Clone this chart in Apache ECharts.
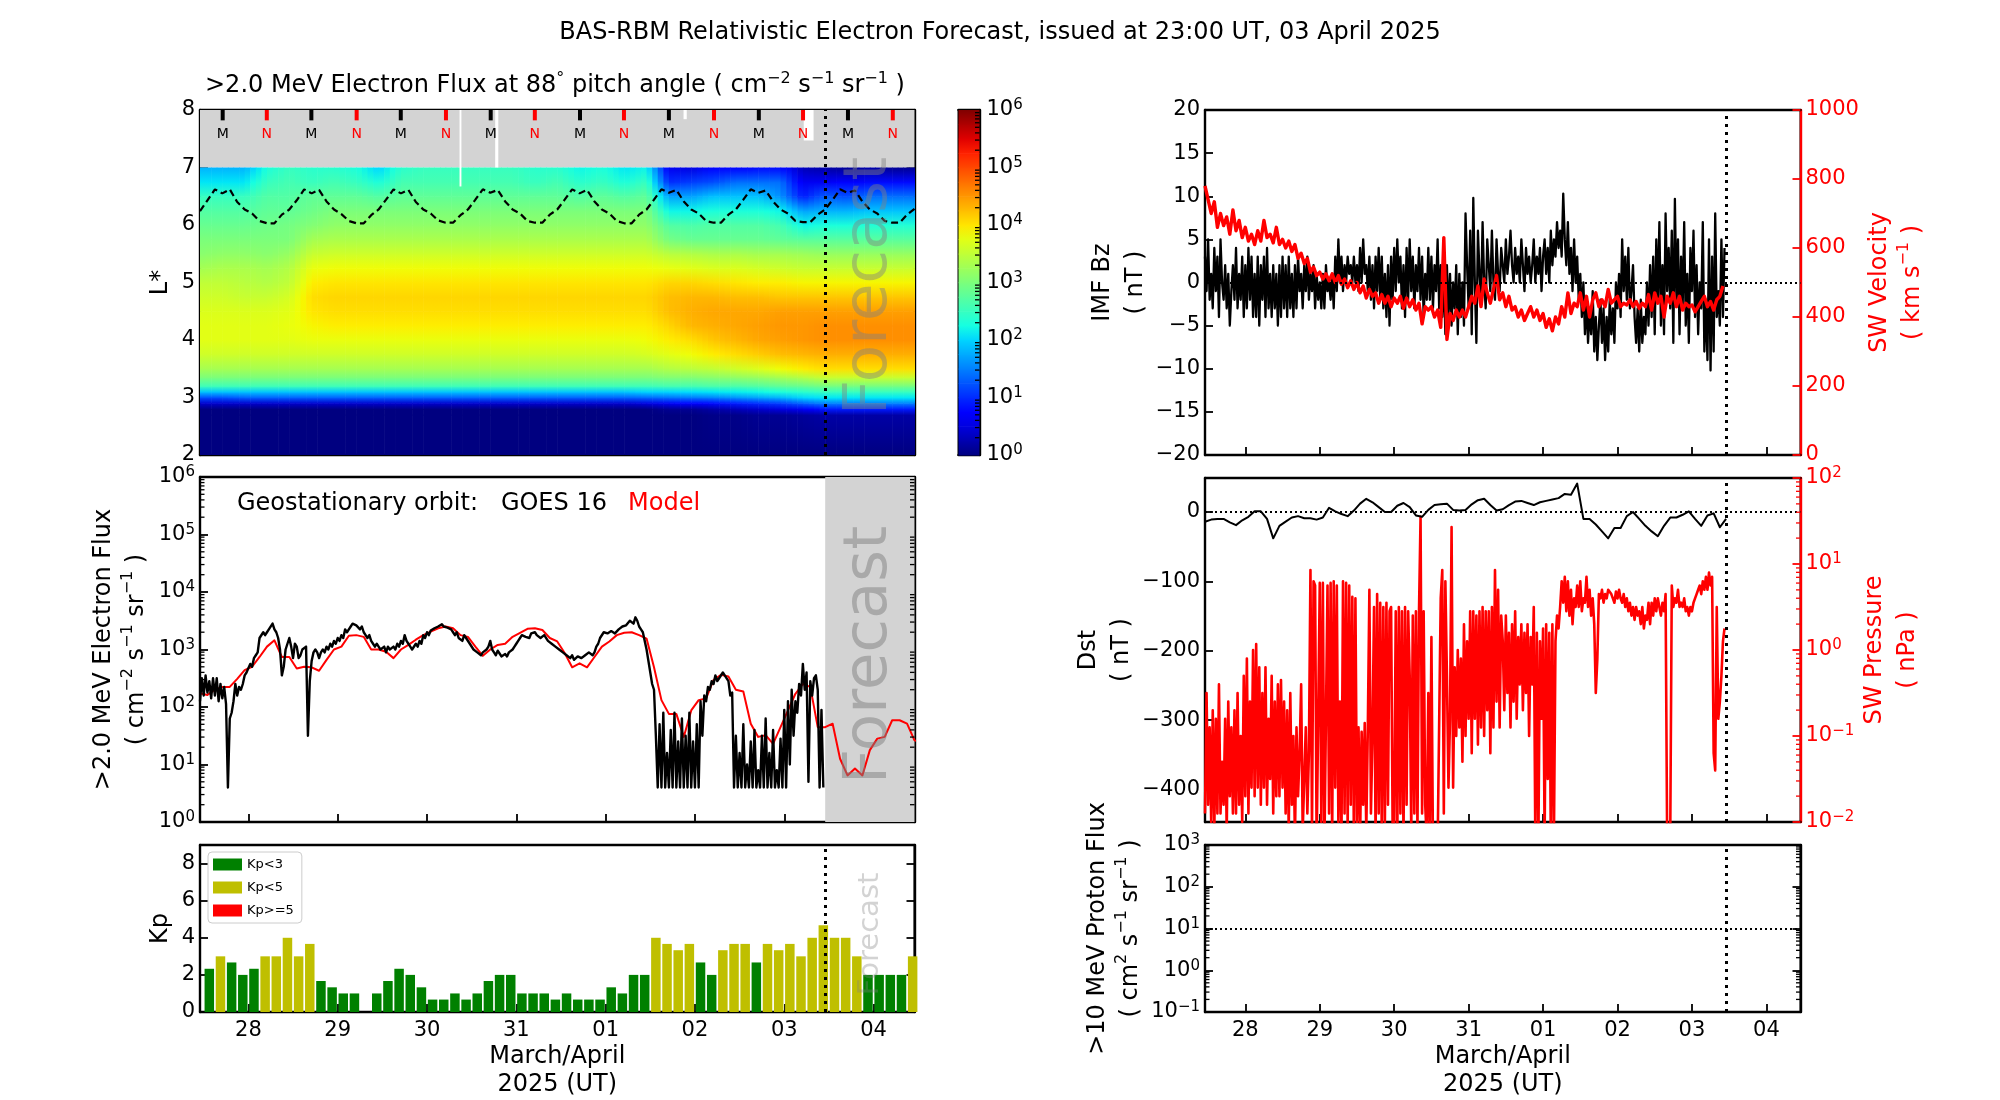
<!DOCTYPE html>
<html><head><meta charset="utf-8"><style>html,body{margin:0;background:#fff}#c{width:2000px;height:1100px}</style>
<script src="https://cdn.jsdelivr.net/npm/echarts@6/dist/echarts.min.js"></script></head><body><div id="c"></div>
<script>
// x values are days since 27 March 23:00 UT. Tick labels sit at noon of each day.
const dayTicks=[0.5417,1.5417,2.5417,3.5417,4.5417,5.5417,6.5417,7.5417];
const dayLabels=['28','29','30','31','01','02','03','04'];
const nowDay=7;
const kp=[2.33,3,2.67,2,2.33,3,3,4, 3,3.67,1.67,1.33,1,1,0,1, 1.67,2.33,2,1.33,.67,.67,1,.67, 1,1.67,2,2,1,1,1,.67, 1,.67,.67,.67,1.33,1,2,2, 4,3.67,3.33,3.67,2.67,2,3.33,3.67, 3.67,2.67,3.67,3.33,3.67,3,4,4.67, 4,4,3,2,2,2,2,3];
const kpFirstDay=0.1042, kpStepDays=0.125;
const mnDays=[.254,.748,1.247,1.754,2.248,2.754,3.255,3.749,4.255,4.747,5.25,5.755,6.257,6.752,7.255,7.757];
const mnLabels=['M','N','M','N','M','N','M','N','M','N','M','N','M','N','M','N'];
const dataGaps=[[2.906,2.927,6.67,8],[3.305,3.34,7,8],[5.414,5.45,7.84,8],[6.76,6.87,7.47,8]];
// L* of geostationary orbit, every 2 hours
const geoL=[6.24,6.43,6.62,6.55,6.62,6.4,6.27,6.2,6.07,6.03,6.03,6.18,
6.27,6.43,6.62,6.55,6.61,6.41,6.27,6.19,6.07,6.03,6.03,6.17,
6.27,6.44,6.62,6.55,6.61,6.4,6.27,6.2,6.08,6.04,6.04,6.17,
6.27,6.44,6.62,6.56,6.61,6.41,6.27,6.2,6.07,6.04,6.04,6.18,
6.27,6.44,6.62,6.55,6.61,6.41,6.27,6.2,6.07,6.03,6.03,6.18,
6.27,6.44,6.62,6.56,6.61,6.41,6.27,6.2,6.07,6.04,6.04,6.18,
6.27,6.44,6.62,6.56,6.6,6.41,6.27,6.2,6.07,6.05,6.05,6.18,
6.27,6.44,6.62,6.56,6.6,6.41,6.27,6.2,6.07,6.04,6.04,6.18,6.28];
// log10 flux: rows go with heatL, columns go with heatDays
const heatDays=[0,.25,.5,.75,1,1.25,1.5,1.75,2,2.25,2.5,2.75,3,3.25,3.5,3.75,4,4.25,4.5,4.75,5,5.25,5.5,5.75,6,6.25,6.5,6.75,7,7.25,7.5,7.75,8];
const heatL=[2,2.7,2.8,2.9,3,3.1,3.2,3.35,3.5,3.75,4,4.25,4.5,4.75,5,5.25,5.5,5.75,6,6.25,6.5,6.75,7];
const heatRows=[
[0,0,0,0,0,0,0,0,0,0,0,0,0,0,0,0,0,0,0,0,0,0,0,0,0,0,0,0,0,0,0,0,0],
[0,0,0,0,0,0,0,0,0,0,0,0,0,0,0,0,0,0,0,0,0,0,0,.05,.05,.1,.1,.15,.2,.2,.2,.2,.2],
[0,0,0,0,0,0,0,0,0,0,0,0,0,0,0,0,0,0,0,0,0,.1,.1,.2,.3,.4,.5,.6,.9,.9,.9,.9,.9],
[.4,.4,.4,.4,.4,.4,.4,.4,.4,.4,.4,.4,.4,.4,.4,.4,.4,.4,.4,.4,.5,.6,.7,.8,.9,1,1.1,1.3,1.5,1.5,1.5,1.5,1.5],
[1.2,1.2,1.3,1.3,1.3,1.3,1.3,1.3,1.3,1.3,1.3,1.3,1.3,1.3,1.3,1.3,1.3,1.3,1.3,1.3,1.35,1.4,1.45,1.5,1.6,1.7,1.8,2,2.1,2.1,2.1,2.1,2.1],
[1.9,1.9,1.9,1.9,1.9,1.9,1.9,1.9,1.9,1.9,1.9,1.9,1.9,1.9,1.9,1.9,1.9,1.9,1.9,1.9,2,2,2.05,2.1,2.15,2.2,2.3,2.4,2.5,2.5,2.5,2.5,2.5],
[2.55,2.55,2.55,2.55,2.55,2.55,2.55,2.55,2.55,2.55,2.55,2.55,2.55,2.55,2.55,2.55,2.55,2.55,2.55,2.55,2.55,2.6,2.6,2.65,2.65,2.7,2.8,2.85,2.95,2.95,2.95,2.95,2.95],
[3,3,3,3,3,3,3,3,3,3,3,3,3,3,3,3,3,3,3,3,3,3.05,3.05,3.1,3.15,3.2,3.3,3.4,3.55,3.55,3.55,3.55,3.55],
[3.3,3.3,3.3,3.3,3.3,3.3,3.3,3.3,3.3,3.3,3.3,3.3,3.3,3.3,3.3,3.3,3.3,3.3,3.3,3.3,3.3,3.4,3.45,3.5,3.6,3.7,3.85,3.95,4.05,4.05,4.05,4.05,4.05],
[3.6,3.6,3.6,3.6,3.6,3.6,3.6,3.6,3.6,3.6,3.6,3.6,3.6,3.6,3.6,3.6,3.6,3.6,3.6,3.6,3.65,3.75,3.85,3.95,4.05,4.15,4.25,4.3,4.35,4.35,4.35,4.35,4.35],
[3.75,3.75,3.75,3.75,3.75,3.8,3.8,3.8,3.8,3.8,3.8,3.8,3.8,3.8,3.8,3.8,3.8,3.8,3.8,3.8,3.85,3.95,4.05,4.2,4.3,4.4,4.45,4.5,4.55,4.55,4.55,4.55,4.55],
[3.75,3.75,3.75,3.75,3.8,3.9,3.95,3.95,3.95,3.95,3.95,3.95,3.95,3.95,3.95,3.95,3.95,3.95,3.95,3.95,3.95,4.1,4.3,4.35,4.4,4.45,4.5,4.5,4.55,4.55,4.55,4.55,4.55],
[3.7,3.7,3.7,3.7,3.75,4,4.05,4.05,4.05,4.05,4.05,4.05,4.05,4.05,4.05,4.05,4.05,4.05,4.05,4.05,4.05,4.25,4.35,4.4,4.4,4.4,4.45,4.45,4.45,4.45,4.45,4.45,4.45],
[3.6,3.6,3.55,3.55,3.65,4.05,4.1,4.1,4.1,4.1,4.1,4.1,4.1,4.1,4.1,4.1,4.1,4.1,4.1,4.1,4.1,4.25,4.3,4.3,4.25,4.25,4.2,4.2,4.2,4.2,4.2,4.2,4.2],
[3.5,3.5,3.45,3.4,3.5,3.95,4,4,4,4,4,4,4,4,4,4,4,4,4,4,4,4.1,4.1,4.05,4,3.95,3.95,3.9,3.9,3.9,3.9,3.9,3.9],
[3.3,3.35,3.35,3.3,3.4,3.8,3.85,3.85,3.85,3.85,3.85,3.85,3.85,3.85,3.85,3.85,3.85,3.85,3.85,3.85,3.85,3.8,3.75,3.7,3.7,3.65,3.6,3.55,3.55,3.55,3.55,3.55,3.55],
[3.1,3.15,3.15,3.1,3.2,3.55,3.6,3.6,3.6,3.6,3.6,3.6,3.6,3.6,3.6,3.6,3.6,3.6,3.6,3.6,3.6,3.45,3.4,3.35,3.35,3.3,3.3,3.25,3.2,3.2,3.2,3.2,3.2],
[3,3,3,3,3,3.3,3.35,3.35,3.35,3.35,3.35,3.35,3.35,3.35,3.35,3.35,3.35,3.35,3.35,3.35,3.35,2.95,2.85,2.85,2.85,2.85,2.8,2.75,2.75,2.75,2.75,2.75,2.75],
[2.85,2.85,2.85,2.9,2.95,3.05,3.15,3.15,3.15,3.15,3.15,3.15,3.15,3.15,3.15,3.15,3.15,3.15,3.15,3.15,3.15,2.7,2.65,2.7,2.7,2.7,2.6,2.2,2.3,2.3,2.35,2.35,2.35],
[2.7,2.7,2.7,2.8,2.8,2.9,3,3,3,3,3,3,3,3,3,3,3,3,3,3,3,2.2,2.2,2.3,2.3,2.3,2.2,1.7,1.8,1.8,1.9,1.9,1.9],
[2.5,2.5,2.5,2.7,2.7,2.8,2.8,2.8,2.7,2.8,2.8,2.8,2.8,2.8,2.8,2.8,2.8,2.7,2.8,2.7,2.8,1.7,1.7,1.9,1.9,1.9,1.6,.9,1.3,1.2,1.4,1.4,1.4],
[2.1,2.1,2.1,2.5,2.6,2.5,2.6,2.5,2.3,2.6,2.6,2.6,2.6,2.6,2.6,2.5,2.6,2.4,2.5,2.3,2.5,1,1.1,1.2,1.4,1.4,1.4,.6,.6,.7,.8,.8,.8],
[1.8,1.8,1.8,2.3,2.5,2.4,2.4,2.3,2,2.4,2.5,2.5,2.5,2.5,2.5,2.4,2.4,2.2,2.3,2.1,2.2,.6,.5,.7,.7,.8,.8,.3,.2,.1,.2,.1,.1]];
const colorbarEdges=[0,.25,.5,.75,1,1.25,1.5,1.75,2,2.25,2.5,2.75,3,3.25,3.5,3.75,4,4.25,4.5,4.75,5,5.25,5.5,5.75,6];
// log10 >2 MeV flux at geostationary orbit: GOES every 30 minutes, model every 2 hours
const goesLog=[2.1,2.5,2.2,2.55,2.25,2.45,2.15,2.5,2.2,2.5,2.1,2.4,2.15,2.35,2.05,.6,1.8,1.9,2.1,2.4,2.2,2.35,2.3,2.4,2.55,2.6,2.6,2.75,2.7,2.85,2.9,2.95,3.2,3.2,3.3,3.25,3.3,3.35,3.35,3.45,3.35,3.3,3.2,3,2.55,2.7,3,3.1,
3.2,3.05,2.85,3.1,3.05,2.85,2.9,3,3,3.05,1.5,2.45,2.8,2.95,3,2.95,2.85,2.95,3,2.95,3.05,3,3.1,3.05,3.15,3.1,3.2,3.15,3.25,3.2,3.35,3.3,3.35,3.4,3.45,3.47,3.42,3.45,3.35,3.4,3.3,3.25,3.2,3.25,3.15,3.1,3.05,3.1,
3.05,3,3,3.05,2.95,3.05,3,2.98,3.05,3,3.1,3.05,3.15,3.1,3.25,3.15,3.1,3.05,3,3.02,3.1,3.05,3.15,3.1,3.25,3.2,3.3,3.25,3.33,3.3,3.37,3.35,3.4,3.37,3.44,3.4,3.42,3.38,3.38,3.35,3.3,3.25,3.3,3.2,3.22,3.15,3.25,3.2,
3.18,3.1,3.1,3,3,2.95,2.93,2.9,2.95,2.98,3,3.05,3.15,3,2.95,2.9,2.98,2.93,2.88,2.85,2.92,2.88,2.95,2.92,3,3.05,3.1,3.15,3.2,3.25,3.28,3.22,3.25,3.2,3.28,3.25,3.3,3.25,3.28,3.2,3.2,3.25,3.25,3.15,3.15,3.1,3.12,3.05,
3.05,3,3,2.95,2.95,2.9,2.9,2.85,2.9,2.82,2.85,2.88,2.9,2.85,2.85,2.9,2.9,2.95,2.95,2.9,2.95,3.05,3.1,3.2,3.2,3.3,3.3,3.28,3.3,3.32,3.32,3.28,3.3,3.35,3.35,3.4,3.4,3.42,3.45,3.5,3.5,3.45,3.56,3.5,3.4,3.35,3.3,3.15,
3,2.8,2.6,2.4,2.3,1.5,.6,1.7,.6,1.9,.6,1.2,.6,1.6,.6,1.9,.6,1.4,.6,1.8,.6,1.5,.6,1.9,.6,1.4,.6,1.7,.6,2.1,1.5,2.2,2.1,2.35,2.3,2.45,2.4,2.55,2.45,2.5,2.5,2.6,2.55,2.55,2.45,2.2,2.25,.6,
1.5,.6,1.2,.6,1.7,.6,1,.6,1.4,.6,1.6,.6,.9,.6,1.5,.6,1.8,.6,1.2,.6,1.6,.6,.9,.6,1.45,.6,1.95,.6,2.1,1,2.3,1.5,2.1,1.9,2.4,2.2,2.75,2.3,2.6,.7,2.45,2.2,2.5,2.55,2.3,.6,1.95,.6];
const modelLog=[2.24,2.21,2.3,2.35,2.35,2.49,2.64,2.7,2.87,3.05,3.16,2.87,2.87,2.67,2.7,2.69,2.63,2.82,3,3.05,3.24,3.25,3.22,3,
3,2.96,2.85,3,3.08,3.17,3.25,3.31,3.37,3.4,3.37,3.25,3.22,3.05,2.89,3,3.08,3.1,3.22,3.29,3.36,3.37,3.34,3.2,3.14,2.94,2.69,2.76,2.69,2.87,3.05,3.14,3.25,3.29,3.3,3.25,3.19,2.69,2.12,1.88,1.88,1.48,1.94,2.12,2.15,2.47,2.56,2.53,2.3,2.27,1.71,1.48,1.51,1.36,1.65,1.94,2.23,2.4,2.35,1.65,1.65,1.71,1.1,.81,.93,.81,1.25,1.45,1.48,1.77,1.77,1.71,1.42,1.39];
// IMF Bz, nT, every 30 minutes
const bz=[3,-1,5,-2,1,-3,4,-1,3,-4,5,0,-2,2,-3,1,-5,-1,2,-2,4,-3,1,-2,3,-4,2,-3,4,-2,3,-4,1,-4,3,-5,2,-2,3,-4,4,-3,1,-4,2,-3,1,-5,
2,-4,3,-3,2,-4,3,-3,1,-4,2,-3,3,-1,1,-3,2,-1,3,-2,1,-1,2,-3,1,-2,0,-3,1,-3,2,-1,0,-2,1,-3,3,-1,5,0,3,-1,2,0,3,1,2,0,
3,0,2,-1,4,0,5,1,2,-1,3,-2,2,-3,3,-1,4,-2,3,-3,1,-4,2,-5,3,-2,4,-1,5,0,3,-3,2,-4,4,-2,5,-1,3,-3,2,-1,4,-2,3,-4,1,-2,
4,-2,3,-3,2,-1,5,-3,2,-4,1,-6,2,-4,1,-5,0,-3,2,-6,1,-4,0,-5,8,2,-3,6,-6,9.8,0,-7,6,1,-2,7,0,-3,5,2,-1,6,0,-2,5,1,-1,4,
2,0,5,1,3,6,2,0,4,1,3,0,5,2,-1,4,1,3,0,2,5,0,3,1,4,-1,3,5,1,4,0,6,2,5,3,7,4,6,3,10.3,5,2,7,1,4,-1,5,0,
3,-2,1,-4,0,-6,-2,-7,-3,-6,-1,-8,-4,-9,-5,-2,-7,-3,-9,-4,-8,-2,-6,-3,-7,0,-3,1,-4,5,-1,3,-2,4,-3,-1,2,-4,-7,-3,-8,-2,-7,-4,-6,0,-5,2,
-4,3,-6,5,-2,7,-5,2,-6,8,-1,4,-3,6,-7,9.7,-2,5,-6,3,-3,7,-5,1,-7,4,-1,6,-4,2,-6,0,-3,7,-8,-2,-9,5,-10.2,3,-8,8,-4,-1,-5,5,-4,4];
// solar wind speed, km/s, hourly
const swSpeed=[780,740,700,734,660,700,665,690,640,710,650,680,630,660,620,640,610,650,620,680,630,640,615,660,
610,625,600,620,590,610,570,585,555,570,530,545,520,530,510,525,505,525,500,520,495,510,485,505,
480,500,470,490,455,480,460,470,440,465,440,460,430,455,440,460,425,455,430,450,420,440,380,430,
420,430,400,420,370,630,335,410,390,420,400,420,400,430,460,440,490,430,510,470,440,480,520,450,
470,430,460,420,430,400,420,390,410,430,400,420,390,410,370,395,360,400,380,430,400,470,410,440,
430,470,420,460,400,450,470,430,450,430,480,440,450,460,430,440,435,450,430,445,425,440,430,465,
420,470,440,460,400,460,440,470,430,460,420,440,430,435,415,430,445,460,430,445,420,450,460,490];
// Dst, nT, every 2 hours
const dst=[-14,-11,-10,-10,-15,-19,-12,-7,1,1,-10,-38,-20,-14,-8,-6,-9,-9,-11,-8,6,1,-3,-6,2,12,19,14,7,0,0,9,13,7,-5,-7,3,10,11,12,3,2,3,11,17,19,10,2,4,10,15,16,13,10,14,16,18,20,26,25,41,-10,-10,-18,-28,-38,-23,-23,-6,0,-10,-20,-28,-35,-20,-8,-8,-4,1,-10,-20,-5,-2,-22,-10];
// log10 solar wind pressure, nPa, every 30 minutes
const pressureLog=[-1.9,-.5,-1.8,-.9,-2,-.7,-2.1,-.8,-1.9,-.4,-1.9,-1.3,-1.8,-.8,-2.1,-.6,-1.7,-.9,-1.9,-.7,-1.9,-.5,-1.8,-1,-2,-.3,-1.7,-.1,-1.9,-.6,-1.6,0,-1.7,.07,-1.6,-.2,-1.8,-.5,-1.6,-.2,-1.8,-.8,-1.5,-.3,-1.9,-.6,-1.7,-.4,
-1.7,-.35,-1.6,-.6,-1.9,-.7,-2.1,-.5,-1.8,-1,-2.2,-.9,-1.7,-1.2,-.4,-2.1,-1.5,-.9,-1.9,-1.2,.93,-2.1,.8,.75,-2.3,-2.3,.78,-2,.78,-2.3,-2.3,.75,-1.9,.78,-2.2,.8,-1.6,.75,-2,-.6,-2.2,.8,-1.9,.78,-2.1,.75,-1.8,.62,
-2.2,.6,-2,-.9,-2.2,-.95,-1.8,-.85,-2.1,-.9,.7,-1.9,-1,.5,-2.2,.65,-1.9,.55,-2.2,.5,-2,.55,-1.8,.45,.5,-2.1,-2,.45,-2.2,.5,-1.9,.45,-2.2,.5,-1.8,.45,-.3,-2.1,.4,-1.9,.45,-2.1,.45,1.55,-1.9,.45,-1.8,-2.2,
-.5,-2.2,.15,-2.3,-2.3,-2.2,-2.3,-2.3,.6,.93,-1.9,.8,-.3,-1.6,-.8,1.43,-1.6,-.2,-1,0,-.9,-.1,-1.3,.3,-1,.1,-.8,.45,-1.2,.45,-.8,.4,-1.1,.45,-.9,.5,-1,.45,-.7,.45,-1.2,.5,-.9,.93,-.6,.7,-.9,.4,
.1,-.7,.4,-.5,.2,-.9,.3,-.6,.45,-.8,.15,-.4,.3,-.7,.2,-.5,.3,-1,.15,-.4,.5,-2.2,.2,-2.2,.1,-.8,.25,-2.2,.3,-1.5,.2,-2.2,.3,-2.2,.1,.4,.25,.5,.8,.55,.85,.45,.8,.4,.7,.3,.6,.5,
.75,.5,.8,.45,.6,.55,.85,.5,.7,.4,.6,.3,-.5,-.1,.65,.6,.7,.55,.65,.6,.7,.72,.65,.6,.55,.68,.6,.7,.6,.55,.65,.5,.6,.45,.55,.4,.5,.35,.5,.4,.45,.3,.5,.25,.4,.35,.55,.3,
.55,.4,.6,.45,.6,.5,.4,.55,.45,.65,-2.2,-2.3,-2.2,.75,.5,.6,.55,.7,.5,.55,.5,.6,.45,.5,.4,.5,.45,.55,.6,.65,.7,.75,.65,.8,.7,.85,.7,.9,.75,.85,-1.2,-1.4,.5,-.8,-.6,-.3,.1,.25];
const protonFlux=[];

const FONT='DejaVu Sans';
const JET_R=[[0,0],[.35,0],[.66,1],[.89,1],[1,.5]];
const JET_G=[[0,0],[.125,0],[.375,1],[.64,1],[.91,0],[1,0]];
const JET_B=[[0,.5],[.11,1],[.34,1],[.65,0],[1,0]];
function seg(s,f){for(let i=1;i<s.length;i++){if(f<=s[i][0]){const a=s[i-1],b=s[i];return a[1]+(b[1]-a[1])*(f-a[0])/(b[0]-a[0]);}}return s[s.length-1][1];}
function jet(v){const f=Math.max(0,Math.min(1,v/6));return 'rgb('+[JET_R,JET_G,JET_B].map(s=>Math.round(255*seg(s,f))).join(',')+')';}
const vGrad=(lo,hi)=>({type:'linear',x:0,y:0,x2:0,y2:1,colorStops:[{offset:0,color:jet(hi)},{offset:1,color:jet(lo)}]});

const pos=[[200,110,714.5,345],[200,477,714.5,345],[200,845,714.5,172],[958.5,110,21,345],[1205,110,595.5,345],[1205,478,595.5,344],[1205,845,595.5,172]];
const grid=pos.map(p=>({show:true,left:p[0],top:p[1],width:p[2],height:p[3],borderColor:'#000',borderWidth:2,containLabel:false}));
const supRich=c=>({b:{fontFamily:FONT,fontSize:21,color:c,lineHeight:24},s:{fontFamily:FONT,fontSize:15,color:c,verticalAlign:'top',lineHeight:14}});
const logFmt=v=>{const e=Math.round(Math.log10(v));return '{b|10}{s|'+String(e).replace('-','\u2212')+'}';};
const minusFmt=v=>String(v).replace('-','\u2212');
const tickCommon=c=>({inside:true,length:8,lineStyle:{color:c,width:1.8}});
const lineCommon=c=>({show:true,onZero:false,lineStyle:{color:c,width:2.4}});

const xAxis=[];
pos.forEach((p,g)=>{
  const bottom=(g===2||g===6), cb=(g===3);
  xAxis.push({type:'value',gridIndex:g,min:0,max:cb?1:8,position:'bottom',splitLine:{show:false},
    axisLine:lineCommon('#000'),
    axisTick:cb?{show:false}:Object.assign(tickCommon('#000'),{customValues:dayTicks}),
    axisLabel:bottom?{show:true,customValues:dayTicks,margin:8,fontFamily:FONT,fontSize:21,color:'#000',formatter:v=>dayLabels[Math.round(v-dayTicks[0])]}:{show:false},
    name:bottom?'March/April\n2025 (UT)':'',nameLocation:'middle',nameGap:31,
    nameTextStyle:{fontFamily:FONT,fontSize:24,color:'#000',lineHeight:28,verticalAlign:'top'}});
});
pos.forEach((p,g)=>{xAxis.push({type:'value',gridIndex:g,min:0,max:g===3?1:8,position:'top',splitLine:{show:false},axisLine:lineCommon('#000'),axisTick:{show:false},axisLabel:{show:false}});});

function nameOpts(name,gap,c){return {name,nameLocation:'middle',nameRotate:90,nameGap:gap,nameTextStyle:{fontFamily:FONT,fontSize:24,color:c,lineHeight:33,rich:{s:{fontFamily:FONT,fontSize:16,color:c,verticalAlign:'top',lineHeight:16}}}};}
const UNITS='( cm{s|\u22122} s{s|\u22121} sr{s|\u22121} )';
function linY(g,min,max,ticks,side,c,labels,name,gap){
  const o={type:'value',gridIndex:g,min,max,position:side,splitLine:{show:false},axisLine:lineCommon(c),
    axisTick:Object.assign(tickCommon(c),{customValues:ticks}),
    axisLabel:labels?{show:true,customValues:ticks,margin:5,fontFamily:FONT,fontSize:21,color:c,formatter:minusFmt}:{show:false}};
  return name?Object.assign(o,nameOpts(name,gap,c)):o;
}
function logY(g,min,max,side,c,labels,name,gap){
  const o={type:'log',logBase:10,gridIndex:g,min,max,interval:1,position:side,splitLine:{show:false},minorTick:{show:false},axisLine:lineCommon(c),
    axisTick:tickCommon(c),
    axisLabel:labels?{show:true,margin:side==='right'&&g===3?7:5,formatter:logFmt,rich:supRich(c),color:c}:{show:false}};
  return name?Object.assign(o,nameOpts(name,gap,c)):o;
}
const LT=[2,3,4,5,6,7,8],KT=[0,2,4,6,8];
const yAxis=[
 linY(0,2,8,LT,'left','#000',true,'L*',19),
 logY(1,1,1e6,'left','#000',true,'>2.0 MeV Electron Flux\n'+UNITS,47),
 linY(2,0,9,KT,'left','#000',true,'Kp',19),
 logY(3,1,1e6,'right','#000',true),
 linY(4,-20,20,[-20,-15,-10,-5,0,5,10,15,20],'left','#000',true,'IMF Bz\n( nT )',47),
 linY(5,-447,49,[0,-100,-200,-300,-400],'left','#000',true,'Dst\n( nT )',59),
 logY(6,.1,1000,'left','#000',true,'>10 MeV Proton Flux\n( cm{s|2} s{s|\u22121} sr{s|\u22121} )',57),
 linY(0,2,8,LT,'right','#000',false),
 logY(1,1,1e6,'right','#000',false),
 linY(2,0,9,KT,'right','#000',false),
 linY(4,0,1000,[0,200,400,600,800,1000],'right','#f00',true,'SW Velocity\n( km s{s|\u22121} )',57),
 logY(5,.01,100,'right','#f00',true,'SW Pressure\n( nPa )',54),
 logY(6,.1,1000,'right','#000',false)
];
function logMinorValues(a,b){const out=[];for(let e=a;e<b;e++)for(let m=2;m<10;m++)out.push([0,m*Math.pow(10,e)]);return out;}
function minorSeries(g,y,a,b,c,left,right){return {type:'custom',silent:true,xAxisIndex:g,yAxisIndex:y,z:6,encode:{x:0,y:1},data:logMinorValues(a,b),clip:false,
  renderItem(params,api){const p=api.coord([0,api.value(1)]),cs=params.coordSys,ch=[];const st={stroke:c,lineWidth:1.3};
    if(left)ch.push({type:'line',shape:{x1:cs.x,y1:p[1],x2:cs.x+4.5,y2:p[1]},style:st});
    if(right)ch.push({type:'line',shape:{x1:cs.x+cs.width,y1:p[1],x2:cs.x+cs.width-4.5,y2:p[1]},style:st});
    return {type:'group',children:ch};}};}
const vMark={silent:true,symbol:'none',animation:false,label:{show:false},lineStyle:{type:[3,5],width:3,color:'#000'},data:[{xAxis:nowDay}]};
const hvMark=(yv)=>({silent:true,symbol:'none',animation:false,label:{show:false},lineStyle:{type:[2,3],width:2,color:'#000'},data:[{yAxis:yv}]});
const stepped=(vals,hours,conv)=>vals.map((v,i)=>[i*hours/24,conv?conv(v):v]);
const pow10=v=>Math.pow(10,v);
const line=(g,y,data,color,width,extra)=>Object.assign({type:'line',xAxisIndex:g,yAxisIndex:y,data,showSymbol:false,symbol:'none',silent:true,lineStyle:{color,width,join:'round'},itemStyle:{color},animation:false},extra||{});

const heatData=[];
for(let r=0;r<heatL.length-1;r++)for(let c=0;c<heatDays.length-1;c++)
  heatData.push([heatDays[c],heatDays[c+1],heatL[r],heatL[r+1],heatRows[r][c],heatRows[r][c+1],heatRows[r+1][c],heatRows[r+1][c+1]]);
const heatSeries={type:'custom',silent:true,xAxisIndex:0,yAxisIndex:0,z:1,clip:true,progressive:0,encode:{x:[0,1],y:[2,3]},data:heatData,
  renderItem(params,api){const x0=api.value(0),x1=api.value(1),l0=api.value(2),l1=api.value(3),a=api.value(4),b=api.value(5),c=api.value(6),d=api.value(7);
    const n=4,ch=[];
    for(let s=0;s<n;s++){const m=(s+.5)/n,lo=a+(b-a)*m,hi=c+(d-c)*m,p=api.coord([x0+(x1-x0)*s/n,l1]),q=api.coord([x0+(x1-x0)*(s+1)/n,l0]);
      ch.push({type:'rect',shape:{x:p[0],y:p[1],width:q[0]-p[0]+.6,height:q[1]-p[1]+.6},style:{fill:vGrad(lo,hi),stroke:null}});}
    return {type:'group',children:ch};}};
const grayMark={silent:true,itemStyle:{color:'#d3d3d3'},data:[[{xAxis:0,yAxis:7},{xAxis:8,yAxis:8}]]};
const gapSeries={type:'custom',silent:true,xAxisIndex:0,yAxisIndex:0,z:2,encode:{x:[0,1],y:[2,3]},data:dataGaps,markArea:grayMark,
  renderItem(params,api){const p=api.coord([api.value(0),api.value(3)]),q=api.coord([api.value(1),api.value(2)]);return {type:'rect',shape:{x:p[0],y:p[1],width:q[0]-p[0],height:q[1]-p[1]},style:{fill:'#fff'}};}};
const mnSeries={type:'custom',silent:true,xAxisIndex:0,yAxisIndex:0,z:3,encode:{x:0},data:mnDays.map((d,i)=>[d,i]),
  renderItem(params,api){const i=api.value(1),c=mnLabels[i]==='N'?'#f00':'#000',t=api.coord([api.value(0),8]),b=api.coord([api.value(0),7.82]),l=api.coord([api.value(0),7.57]);
    return {type:'group',children:[{type:'line',shape:{x1:t[0],y1:t[1],x2:b[0],y2:b[1]},style:{stroke:c,lineWidth:4}},
      {type:'text',style:{x:l[0],y:l[1],text:mnLabels[i],fill:c,font:'14px "'+FONT+'"',textAlign:'center',textVerticalAlign:'middle'}}]};}};
const cbEdges=colorbarEdges.slice(0,-1).map((e,i)=>[0,pow10(e),1,pow10(colorbarEdges[i+1]),e,colorbarEdges[i+1]]);
const cbSeries={type:'custom',silent:true,xAxisIndex:3,yAxisIndex:3,z:1,encode:{x:[0,2],y:[1,3]},data:cbEdges,
  renderItem(params,api){const p=api.coord([0,api.value(3)]),q=api.coord([1,api.value(1)]);return {type:'rect',shape:{x:p[0],y:p[1],width:q[0]-p[0],height:q[1]-p[1]+.6},style:{fill:vGrad(api.value(4),api.value(5))}};}};
const kpX=i=>kpFirstDay+i*kpStepDays;
const kpBar=(name,color,test)=>({type:'bar',name,xAxisIndex:2,yAxisIndex:2,barWidth:9.5,barGap:'-100%',itemStyle:{color},silent:true,z:2,data:kp.map((v,i)=>[kpX(i),v]).filter(d=>d[1]>0&&test(d[1]))});

const series=[
 heatSeries,gapSeries,mnSeries,
 line(0,0,stepped(geoL,2),'#000',2,{z:4,lineStyle:{color:'#000',width:2.2,type:[7,4]},markLine:vMark}),
 cbSeries,minorSeries(3,3,0,6,'#000',false,true),
 line(1,1,stepped(modelLog,2,pow10),'#f00',2,{z:3,markArea:{silent:true,itemStyle:{color:'#d3d3d3'},data:[[{xAxis:nowDay},{xAxis:8}]]}}),
 line(1,1,stepped(goesLog,.5,pow10),'#000',2.4,{z:4}),
 minorSeries(1,1,0,6,'#000',true,true),
 kpBar('Kp<3','#008000',v=>v<3),kpBar('Kp<5','#bfbf00',v=>v>=3&&v<5),kpBar('Kp>=5','#ff0000',v=>v>=5),
 line(2,2,[],'#000',2,{z:5,markLine:vMark}),
 line(4,4,stepped(bz,.5),'#000',2.3,{z:3,markLine:hvMark(0)}),
 line(4,10,stepped(swSpeed,1),'#f00',3.4,{z:4,markLine:vMark}),
 line(5,5,stepped(dst,2),'#000',2,{z:4,markLine:hvMark(0)}),
 line(5,11,stepped(pressureLog,.5,pow10),'#f00',2.6,{z:3,markLine:vMark}),
 minorSeries(5,11,-2,2,'#f00',false,true),
 line(6,6,protonFlux,'#000',2,{z:3,markLine:{silent:true,symbol:'none',animation:false,label:{show:false},lineStyle:{type:[2,3],width:2,color:'#000'},data:[{yAxis:10}]}}),
 line(6,6,[],'#000',2,{z:3,markLine:vMark}),
 minorSeries(6,6,-1,3,'#000',true,true)
];
const titleStyle=(size,c)=>({fontFamily:FONT,fontSize:size,fontWeight:'normal',color:c,rich:{s:{fontFamily:FONT,fontSize:16,color:c,verticalAlign:'top',lineHeight:16},b:{fontFamily:FONT,fontSize:size,color:c,lineHeight:30}}});
const forecast=(y,size,fill)=>({type:'text',x:870,y,rotation:Math.PI/2,z:200,silent:true,style:{text:'Forecast',font:size+'px "'+FONT+'"',fill,textAlign:'center',textVerticalAlign:'middle'}});
const chart=echarts.init(document.getElementById('c'),null,{renderer:'canvas'});
chart.setOption({animation:false,backgroundColor:'#fff',
 title:[
  {text:'BAS-RBM Relativistic Electron Forecast, issued at 23:00 UT, 03 April 2025',left:1000,textAlign:'center',top:21,padding:0,textStyle:titleStyle(24,'#000')},
  {text:'{b|>2.0 MeV Electron Flux at 88}{s|\u00b0}{b| pitch angle ( cm}{s|\u22122}{b| s}{s|\u22121}{b| sr}{s|\u22121}{b| )}',left:205,top:71,padding:0,textStyle:titleStyle(24,'#000')},
  {text:'Geostationary orbit:   GOES 16',left:237,top:492,padding:0,textStyle:titleStyle(24,'#000')},
  {text:'Model',left:628,top:492,padding:0,textStyle:titleStyle(24,'#f00')}
 ],
 grid,xAxis,yAxis,series,
 legend:{data:['Kp<3','Kp<5','Kp>=5'],orient:'vertical',left:208,top:852,itemWidth:29,itemHeight:12,itemGap:10,padding:[6,8,6,5],icon:'rect',selectedMode:false,
  backgroundColor:'#fff',borderColor:'#ccc',borderWidth:1,borderRadius:4,textStyle:{fontFamily:FONT,fontSize:13,color:'#000'}},
 graphic:[forecast(286,61,'rgba(128,128,128,.45)'),forecast(655,61,'rgba(128,128,128,.5)'),forecast(934,29,'rgba(128,128,128,.35)')]
});
</script></body></html>
